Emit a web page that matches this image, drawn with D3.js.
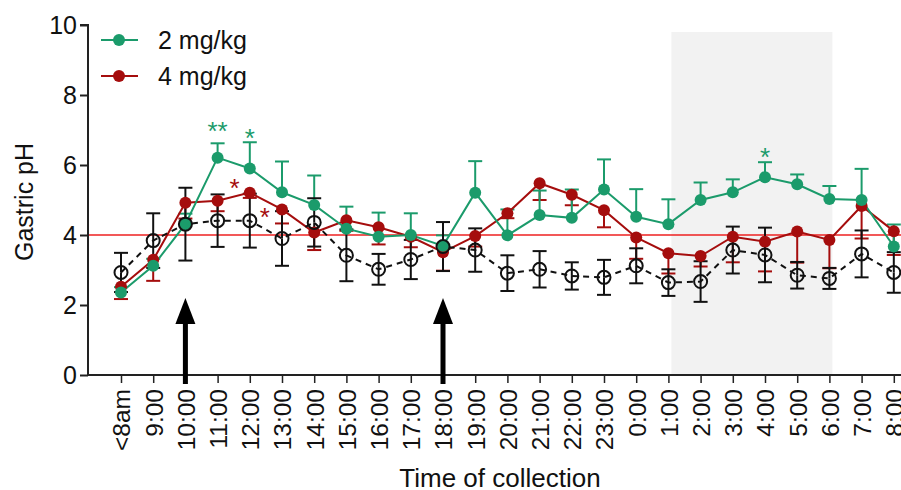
<!DOCTYPE html>
<html>
<head>
<meta charset="utf-8">
<script src="https://cdn.jsdelivr.net/npm/d3@7"></script>
<style>
  html, body { margin: 0; padding: 0; background: #fff; }
  svg { display: block; font-family: "Liberation Sans", Arial, sans-serif; }
</style>
</head>
<body>
<svg id="chart" width="901" height="490"></svg>
<script>
// ---- Data ----
const categories = ["<8am","9:00","10:00","11:00","12:00","13:00","14:00","15:00","16:00","17:00","18:00","19:00",
  "20:00","21:00","22:00","23:00","0:00","1:00","2:00","3:00","4:00","5:00","6:00","7:00","8:00"];

const control     = [2.93,3.84,4.31,4.41,4.41,3.90,4.36,3.42,3.02,3.30,3.67,3.57,2.91,3.02,2.83,2.79,3.12,2.64,2.67,3.57,3.43,2.85,2.76,3.46,2.93];
const controlSem  = [0.56,0.78,1.04,0.75,0.77,0.78,0.69,0.74,0.44,0.56,0.70,0.62,0.51,0.52,0.39,0.50,0.50,0.38,0.58,0.67,0.78,0.38,0.30,0.67,0.58];

const dose2       = [2.36,3.12,4.31,6.21,5.90,5.22,4.86,4.18,3.95,4.00,3.69,5.21,3.99,4.57,4.49,5.30,4.52,4.31,5.00,5.22,5.65,5.45,5.03,5.00,3.67];
const dose2Sem    = [0.15,0.20,0.30,0.41,0.75,0.88,0.84,0.63,0.69,0.62,0.30,0.90,0.74,0.70,0.81,0.86,0.79,0.71,0.50,0.37,0.43,0.28,0.37,0.89,0.63];

const dose4       = [2.52,3.29,4.92,4.98,5.21,4.73,4.07,4.42,4.22,3.95,3.51,3.97,4.62,5.48,5.15,4.71,3.93,3.48,3.40,3.95,3.81,4.10,3.86,4.83,4.11];
const dose4Sem    = [0.35,0.60,0.45,0.30,0.15,0.40,0.50,0.30,0.49,0.30,0.53,0.30,0.14,0.48,0.30,0.49,0.61,0.58,0.30,0.73,0.85,0.89,0.81,0.93,0.68];

const seriesNames = ["2 mg/kg","4 mg/kg"];
const yTicks = [0,2,4,6,8,10];
const referencePH = 4;
const doseTimes = ["10:00","18:00"];
const nightStart = "1:00", nightEnd = "6:00";
// significance marks: [category, series, label, pH level of mark centre]
const sigMarks = [
  ["11:00","2 mg/kg","**",7.14],
  ["12:00","2 mg/kg","*",6.95],
  ["11:00","4 mg/kg","*",5.5],
  ["12:00","4 mg/kg","*",4.68],
  ["4:00","2 mg/kg","*",6.4]
];

// ---- Layout ----
const svg = d3.select("#chart");
const x = d3.scalePoint().domain(categories).range([121, 893.8]);
const y = d3.scaleLinear().domain([0,10]).range([375, 25]);
const green = "#1b9b6b", red = "#a50d0d", refRed = "#ee2020";
const xAxisY = y(0), yAxisX = 88;
const FS = 25;

// night shading
svg.append("rect")
  .attr("x", x(nightStart) + 3).attr("y", y(9.8))
  .attr("width", x(nightEnd) - x(nightStart)).attr("height", y(0) - y(9.8))
  .attr("fill", "#f2f2f2");

// reference line
svg.append("line")
  .attr("x1", yAxisX).attr("x2", 901).attr("y1", y(referencePH)).attr("y2", y(referencePH))
  .attr("stroke", refRed).attr("stroke-width", 1.6);

// axes
const yAxis = d3.axisLeft(y).tickValues(yTicks).tickSize(8).tickPadding(3).tickFormat(d3.format("d"));
const gy = svg.append("g").attr("transform", `translate(${yAxisX},0)`).call(yAxis);
gy.select(".domain").attr("stroke", "#222").attr("stroke-width", 2).attr("d", `M-8,${y(10)}H0V${y(0)}`);
gy.selectAll(".tick line").attr("stroke", "#222").attr("stroke-width", 2);
gy.selectAll(".tick text").attr("font-size", FS).attr("fill", "#111").attr("dy", "0.34em");

const xAxis = d3.axisBottom(x).tickSize(8).tickPadding(6);
const gx = svg.append("g").attr("transform", `translate(0,${xAxisY})`).call(xAxis);
gx.select(".domain").attr("stroke", "#222").attr("stroke-width", 2).attr("d", `M${yAxisX},0H901`);
gx.selectAll(".tick line").attr("stroke", "#222").attr("stroke-width", 1.5);
gx.selectAll(".tick text")
  .attr("font-size", 24.5).attr("fill", "#111")
  .attr("transform", "rotate(-90)")
  .attr("text-anchor", "end")
  .attr("x", -14).attr("y", 0).attr("dy", "0.36em");

// axis titles
svg.append("text").attr("x", 500).attr("y", 487).attr("text-anchor", "middle")
  .attr("font-size", FS + 1).attr("fill", "#111").text("Time of collection");
svg.append("text").attr("transform", `translate(33,${y(5) + 2}) rotate(-90)`).attr("text-anchor", "middle")
  .attr("font-size", FS).attr("fill", "#111").text("Gastric pH");

// helpers
function errorBars(vals, sems, color, dir) {
  const g = svg.append("g").attr("stroke", color).attr("stroke-width", 2).attr("fill", "none");
  categories.forEach((c, i) => {
    const cx = x(c);
    const ends = [];
    if (dir === "up" || dir === "both") ends.push(vals[i] + sems[i]);
    if (dir === "down" || dir === "both") ends.push(vals[i] - sems[i]);
    ends.forEach(e => {
      g.append("line").attr("x1", cx).attr("x2", cx).attr("y1", y(vals[i])).attr("y2", y(e));
      g.append("line").attr("x1", cx - 7).attr("x2", cx + 7).attr("y1", y(e)).attr("y2", y(e));
    });
  });
}
const line = d3.line().x((d, i) => x(categories[i])).y(d => y(d));

// error bars
errorBars(dose4, dose4Sem, red, "down");
errorBars(dose2, dose2Sem, green, "up");
errorBars(control, controlSem, "#111", "both");

// lines
svg.append("path").datum(dose4).attr("d", line).attr("fill", "none").attr("stroke", red).attr("stroke-width", 2);
svg.append("path").datum(dose2).attr("d", line).attr("fill", "none").attr("stroke", green).attr("stroke-width", 2);
svg.append("path").datum(control).attr("d", line).attr("fill", "none").attr("stroke", "#111")
  .attr("stroke-width", 2).attr("stroke-dasharray", "6,5");

// points
svg.append("g").selectAll("circle").data(dose4).join("circle")
  .attr("cx", (d, i) => x(categories[i])).attr("cy", d => y(d)).attr("r", 6).attr("fill", red);
svg.append("g").selectAll("circle").data(dose2).join("circle")
  .attr("cx", (d, i) => x(categories[i])).attr("cy", d => y(d)).attr("r", 6).attr("fill", green);
svg.append("g").selectAll("circle").data(control).join("circle")
  .attr("cx", (d, i) => x(categories[i])).attr("cy", d => y(d)).attr("r", 6.5)
  .attr("fill", "none").attr("stroke", "#111").attr("stroke-width", 2);

// significance marks
const sigOffset = { "11:00|4 mg/kg": 17, "12:00|4 mg/kg": 15 };
const sigFS = 26;
sigMarks.forEach(([c, s, lbl, v]) => {
  const dx = sigOffset[c + "|" + s] || 0;
  svg.append("text").attr("x", x(c) + dx).attr("y", y(v) + sigFS * 0.57)
    .attr("text-anchor", "middle").attr("font-size", sigFS)
    .attr("fill", s === "2 mg/kg" ? green : red).text(lbl);
});

// dosing arrows
doseTimes.forEach(t => {
  const cx = x(t);
  svg.append("rect").attr("x", cx - 2.5).attr("y", 318).attr("width", 5).attr("height", 384 - 318).attr("fill", "#000");
  svg.append("path").attr("d", `M${cx},298L${cx + 10},324L${cx - 10},324Z`).attr("fill", "#000");
});

// legend
const legend = svg.append("g");
[[seriesNames[0], green, 40], [seriesNames[1], red, 76]].forEach(([name, col, ly]) => {
  legend.append("line").attr("x1", 101).attr("x2", 138).attr("y1", ly).attr("y2", ly)
    .attr("stroke", col).attr("stroke-width", 2);
  legend.append("circle").attr("cx", 119).attr("cy", ly).attr("r", 6).attr("fill", col);
  legend.append("text").attr("x", 158).attr("y", ly + 9).attr("font-size", FS).attr("fill", "#111").text(name);
});
</script>
</body>
</html>
